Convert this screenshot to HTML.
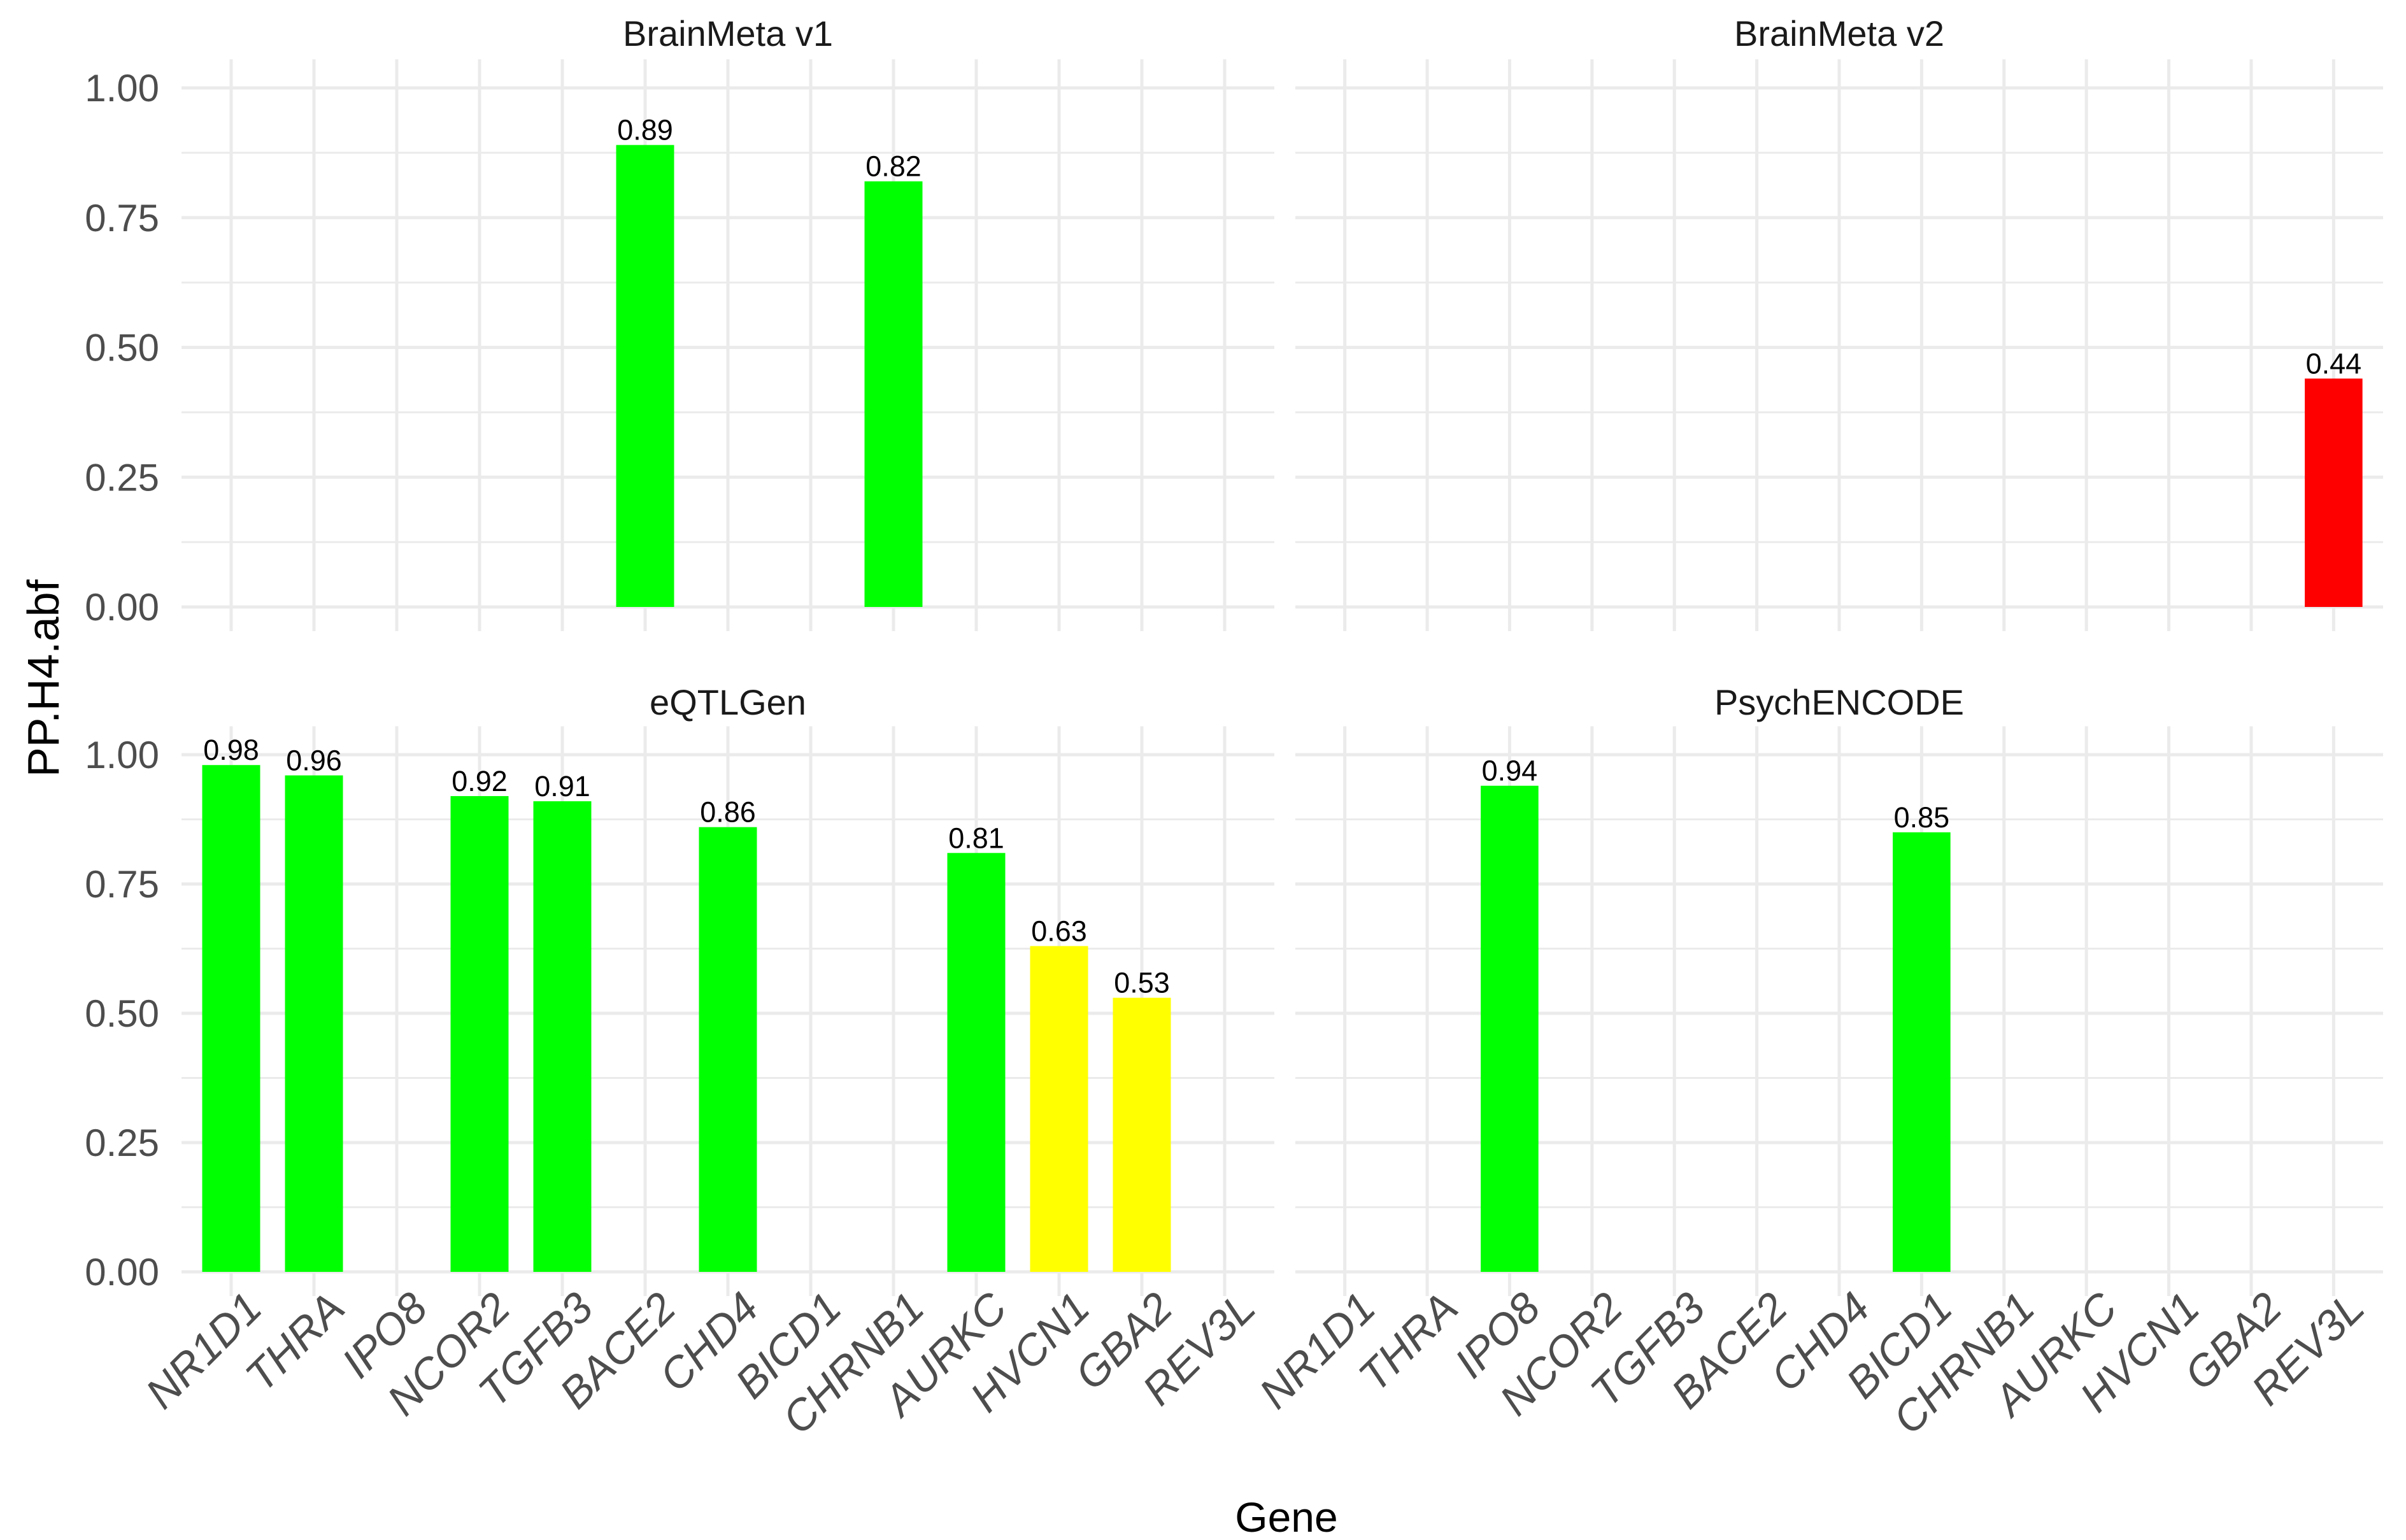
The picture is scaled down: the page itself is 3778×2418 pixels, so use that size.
<!DOCTYPE html>
<html><head><meta charset="utf-8"><style>
html,body{margin:0;padding:0;background:#fff;}
svg{display:block;font-family:"Liberation Sans",sans-serif;}
</style></head><body>
<svg id="chart" width="3778" height="2418" viewBox="0 0 3778 2418" xmlns="http://www.w3.org/2000/svg">
<text x="0" y="0" transform="translate(92,1065) rotate(-90)" text-anchor="middle" font-size="70" fill="#000">PP.H4.abf</text>
<text x="2020" y="2405" text-anchor="middle" font-size="66" fill="#000">Gene</text>
</svg>
<script>
const genes = ["NR1D1","THRA","IPO8","NCOR2","TGFB3","BACE2","CHD4","BICD1","CHRNB1","AURKC","HVCN1","GBA2","REV3L"];
const panelNames = ["BrainMeta v1","BrainMeta v2","eQTLGen","PsychENCODE"];
const valsBrainMetaV1 = [null,null,null,null,null,0.89,null,null,0.82,null,null,null,null];
const valsBrainMetaV2 = [null,null,null,null,null,null,null,null,null,null,null,null,0.44];
const valsEqtlGen = [0.98,0.96,null,0.92,0.91,null,0.86,null,null,0.81,0.63,0.53,null];
const valsPsychEncode = [null,null,0.94,null,null,null,null,0.85,null,null,null,null,null];
const yTicks = [0,0.25,0.5,0.75,1];
const yTickLabels = ["0.00","0.25","0.50","0.75","1.00"];

const svg = document.getElementById('chart');
const NS = "http://www.w3.org/2000/svg";
function mk(tag, attrs, parent){
  const e = document.createElementNS(NS, tag);
  for (const k in attrs) e.setAttribute(k, attrs[k]);
  (parent||svg).appendChild(e);
  return e;
}
const allVals = [valsBrainMetaV1, valsBrainMetaV2, valsEqtlGen, valsPsychEncode];
const layout = [
  {x0:285,x1:2001,y0:953,y1:138,title:53},
  {x0:2034,x1:3742,y0:953,y1:138,title:53},
  {x0:285,x1:2001,y0:1997,y1:1185,title:1103},
  {x0:2034,x1:3742,y0:1997,y1:1185,title:1103}
];
function color(v){ return v>=0.8 ? "#00ff00" : (v>=0.5 ? "#ffff00" : "#ff0000"); }

layout.forEach((L, p) => {
  const g = mk('g', {});
  
  
  const n = genes.length;
  const step = (L.x1 - L.x0) / (n - 1 + 1.2);
  const xs = i => L.x0 + step*0.6 + i*step;
  const unit = (L.y0 - L.y1);
  const ys = v => L.y0 - v*unit;
  const gTop = ys(1.055), gBot = L.y0 + 38;
  for (let k=0;k<yTicks.length-1;k++){
    const m = (yTicks[k]+yTicks[k+1])/2;
    const l = mk('line',{x1:L.x0,x2:L.x1,y1:ys(m),y2:ys(m),stroke:"#ebebeb","stroke-width":3},g);
    
    
  }
  yTicks.forEach(t => {
    const l = mk('line',{x1:L.x0,x2:L.x1,y1:ys(t),y2:ys(t),stroke:"#ebebeb","stroke-width":5},g);
    
    
  });
  genes.forEach((gn,i) => {
    const l = mk('line',{x1:xs(i),x2:xs(i),y1:gTop,y2:gBot,stroke:"#ebebeb","stroke-width":5},g);
    
    
  });
  const t = mk('text',{x:(L.x0+L.x1)/2,y:L.title+19,"text-anchor":"middle","font-size":56,fill:"#1a1a1a"},g);
  t.textContent = panelNames[p];
  
  
  if (p % 2 === 0){
    yTicks.forEach((tv,k) => {
      const tl = mk('text',{x:250,y:ys(tv)+21,"text-anchor":"end","font-size":60,fill:"#4d4d4d"},g);
      tl.textContent = yTickLabels[k];
      
      
    });
  }
  if (p >= 2){
    genes.forEach((gn,i) => {
      const ax = xs(i)+52, ay = 2058;
      const tl = mk('text',{x:0,y:0,transform:`translate(${ax},${ay}) rotate(-45)`,"text-anchor":"end","font-size":68,"font-style":"italic",fill:"#4d4d4d"},g);
      tl.textContent = gn;
      
      
    });
  }
  const bw = step*0.7;
  allVals[p].forEach((v,i) => {
    if (v === null) return;
    const r = mk('rect',{x:xs(i)-bw/2,y:ys(v),width:bw,height:ys(0)-ys(v),fill:color(v)},g);
    
    
    const lb = mk('text',{x:xs(i),y:ys(v)-8,"text-anchor":"middle","font-size":45,fill:"#000"},g);
    lb.textContent = v.toFixed(2);
    
    
  });
});
</script>
</body></html>
